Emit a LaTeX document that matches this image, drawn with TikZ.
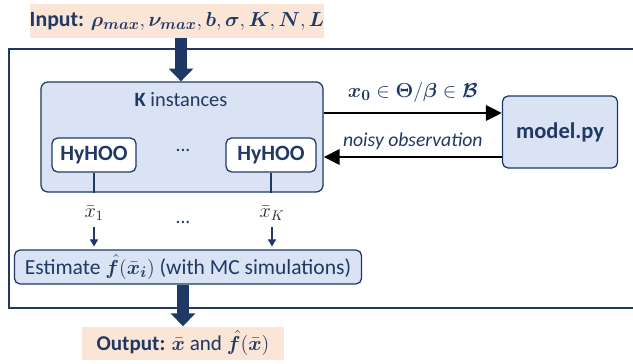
\documentclass[tikz,border=0pt]{standalone}
\usepackage{amsmath,bm}
\usepackage{fontspec}
\setmainfont{Carlito}
\usetikzlibrary{arrows.meta}
\definecolor{navy}{HTML}{1F3864}
\definecolor{paleblue}{HTML}{DAE3F3}
\definecolor{peach}{HTML}{FBE5D6}
\newcommand{\fsz}[1]{\fontsize{#1}{#1}\selectfont}

\begin{document}
\begin{tikzpicture}[x=0.025cm,y=-0.025cm,
    iobox/.style={fill=peach,text=navy,inner sep=0pt},
    bluebox/.style={draw=navy,fill=paleblue,line width=0.9pt,rounded corners=5pt,inner sep=0pt},
    hybox/.style={draw=navy,fill=white,line width=0.9pt,rounded corners=4pt,inner sep=0pt,
      minimum height=0.85cm,text=navy,font=\bfseries\fsz{15.5}},
    bigarrow/.style={navy,line width=8pt,-{Triangle[length=0.32cm,width=0.6cm]}},
    flow/.style={black,line width=2pt,-{Triangle[length=0.4cm,width=0.38cm]}},
    thin/.style={navy,line width=0.9pt},
    thinarrow/.style={navy,line width=0.9pt,-{Triangle[length=0.18cm,width=0.2cm]}}]
  \useasboundingbox (0,0) rectangle (633,363);

  % outer frame
  \draw[navy,line width=1.2pt] (640,49) -- (9,49) -- (9,308) -- (640,308);

  \node[iobox,minimum width=7.05cm,minimum height=0.85cm] (input) at (177,21)
    {\fsz{15.5}\textbf{Input:} $\bm{\rho_{max}},\bm{\nu_{max}},\bm{b},\bm{\sigma},\bm{K},\bm{N},\bm{L}$};

  \node[bluebox,minimum width=7.05cm,minimum height=2.75cm] (kbox) at (182,137) {};
  \node[text=navy,font=\fsz{14.5}] (ktitle) at (181,100) {\textbf{K} instances};
  \node[hybox,minimum width=2.1cm] (hy1) at (94,155) {HyHOO};
  \node[hybox,minimum width=2.25cm] (hyK) at (271,155) {HyHOO};
  \node[text=navy,font=\fsz{14}] (dots1) at (183,150) {...};

  \node[bluebox,rounded corners=4pt,minimum width=2.875cm,minimum height=1.8cm,
    text=navy,font=\bfseries\fsz{16}] (model) at (560,132) {model.py};

  \node[font=\fsz{14},text=black!85] (xb1) at (94,213) {$\bar{x}_1$};
  \node[font=\fsz{14},text=black!85] (xbK) at (272,213) {$\bar{x}_K$};
  \node[text=navy,font=\fsz{14}] (dots2) at (183,222) {...};

  \node[bluebox,rounded corners=4pt,minimum width=8.675cm,minimum height=0.85cm,
    text=navy,font=\fsz{15.3}] (est) at (188,267)
    {Estimate $\hat{\bm{f}}(\bar{\bm{x}}_{\bm{i}})$ (with MC simulations)};

  \node[iobox,minimum width=5.025cm,minimum height=0.825cm,font=\fsz{15}] (output) at (183,343)
    {\textbf{Output:} $\bar{\bm{x}}$ and $\hat{\bm{f}}(\bar{\bm{x}})$};

  \coordinate (q1) at (0,113);
  \coordinate (q2) at (0,157);

  \draw[bigarrow] (ktitle |- input.south) -- (ktitle |- kbox.north);
  \draw[bigarrow] (output |- est.south) -- (output.north);

  \draw[flow] (kbox.east |- q1) -- node[above=3pt,text=navy,font=\fsz{15}]
    {$\bm{x_0}\in\bm{\Theta}/\bm{\beta}\in\bm{\mathcal{B}}$} (model.west |- q1);
  \draw[flow] (model.west |- q2) -- node[above=1pt,text=navy,font=\itshape\fsz{14}]
    {noisy observation} (kbox.east |- q2);

  \draw[thin] (hy1.south) -- (hy1.south |- kbox.south);
  \draw[thin] (hyK.south) -- (hyK.south |- kbox.south);
  \draw[thinarrow] (xb1.south) ++(0,2) -- ([yshift=0.07cm]xb1.south |- est.north);
  \draw[thinarrow] (xbK.south) ++(0,2) -- ([yshift=0.07cm]xbK.south |- est.north);
\end{tikzpicture}
\end{document}
